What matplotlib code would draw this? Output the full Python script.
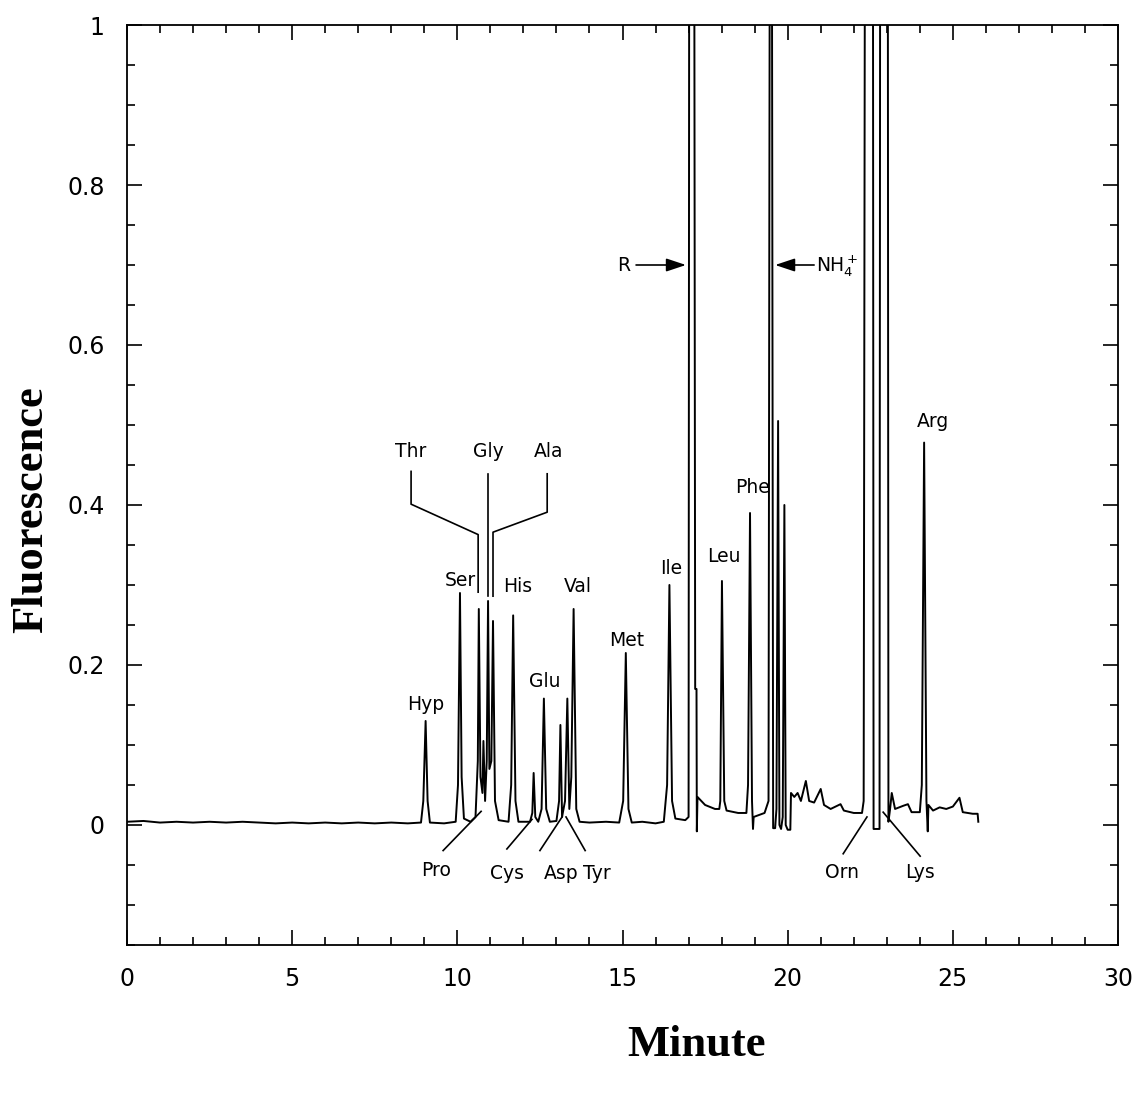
import numpy as np
import matplotlib
matplotlib.use("Agg")
import matplotlib.pyplot as plt
from matplotlib.ticker import MultipleLocator, FixedLocator, FixedFormatter

# chromatogram trace, vertices (minutes, fluorescence)
minutes = [
    0.0, 0.5, 1.0, 1.5, 2.0, 2.5, 3.0, 3.5, 4.0, 4.5, 5.0, 5.5, 6.0, 6.5, 7.0, 7.5, 8.0, 8.5, 8.9,
    8.97, 9.04, 9.10, 9.17, 9.6, 9.95,
    10.02, 10.08, 10.13, 10.2, 10.4, 10.55,
    10.62, 10.65, 10.70, 10.76, 10.79, 10.84, 10.89, 10.93, 10.97,
    11.03, 11.08, 11.14, 11.25, 11.55,
    11.63, 11.69, 11.76, 11.85, 12.2,
    12.27, 12.31, 12.36, 12.45,
    12.55, 12.62, 12.69, 12.8, 13.0,
    13.08, 13.12, 13.17, 13.26, 13.33, 13.39,
    13.45, 13.52, 13.60, 13.7, 14.0, 14.5, 14.9,
    15.02, 15.10, 15.18, 15.28, 15.6, 16.0, 16.25,
    16.35, 16.42, 16.50, 16.6, 16.9, 17.0,
    17.02, 17.17, 17.20, 17.24, 17.25, 17.27, 17.5, 17.8, 17.93,
    17.96, 18.01, 18.08, 18.15, 18.5, 18.75,
    18.80, 18.86, 18.92, 18.95, 18.97, 19.1, 19.3, 19.42,
    19.46, 19.52, 19.56, 19.62, 19.66, 19.71, 19.75, 19.80, 19.85, 19.90, 19.94, 20.0, 20.08,
    20.10, 20.2, 20.3, 20.4, 20.55, 20.65, 20.8, 21.0, 21.1, 21.3, 21.6, 21.7, 22.0, 22.25,
    22.30, 22.34, 22.58, 22.60, 22.78, 22.80, 23.03, 23.05,
    23.10, 23.15, 23.25, 23.5, 23.64, 23.75, 24.0,
    24.06, 24.13, 24.20, 24.23, 24.24, 24.26, 24.4, 24.6, 24.8, 25.0, 25.2, 25.3, 25.6, 25.75, 25.77,
]
fluorescence = [
    0.004, 0.005, 0.003, 0.004, 0.003, 0.004, 0.003, 0.004, 0.003, 0.002, 0.003, 0.002, 0.003, 0.002, 0.003, 0.002, 0.003, 0.002, 0.003,
    0.03, 0.13, 0.03, 0.003, 0.002, 0.004,
    0.05, 0.29, 0.06, 0.008, 0.004, 0.01,
    0.08, 0.27, 0.06, 0.04, 0.105, 0.03, 0.08, 0.28, 0.07,
    0.08, 0.255, 0.03, 0.006, 0.004,
    0.05, 0.262, 0.03, 0.004, 0.004,
    0.015, 0.065, 0.01, 0.004,
    0.02, 0.158, 0.02, 0.004, 0.005,
    0.03, 0.125, 0.01, 0.03, 0.158, 0.02,
    0.06, 0.27, 0.02, 0.004, 0.003, 0.004, 0.003,
    0.03, 0.215, 0.02, 0.003, 0.004, 0.002, 0.004,
    0.05, 0.30, 0.03, 0.008, 0.006, 0.01,
    1.2, 1.2, 0.17, 0.17, -0.008, 0.035, 0.025, 0.02, 0.02,
    0.03, 0.305, 0.03, 0.018, 0.015, 0.015,
    0.05, 0.39, 0.03, -0.005, 0.01, 0.012, 0.015, 0.03,
    1.2, 1.2, -0.004, -0.004, 0.02, 0.505, 0.0, -0.005, 0.01, 0.40, 0.0, -0.006, -0.006,
    0.04, 0.035, 0.04, 0.03, 0.055, 0.03, 0.028, 0.045, 0.025, 0.02, 0.026, 0.018, 0.015, 0.015,
    0.03, 1.2, 1.2, -0.005, -0.005, 1.2, 1.2, 0.004,
    0.02, 0.04, 0.02, 0.024, 0.026, 0.016, 0.016,
    0.05, 0.478, 0.03, 0.0, -0.008, 0.025, 0.018, 0.022, 0.02, 0.023, 0.034, 0.016, 0.014, 0.014, 0.004,
]

# peak labels: name, text position (minutes, fluorescence)
peak_names = ["Hyp", "Ser", "Thr", "Gly", "Ala", "His", "Val", "Glu", "Met",
              "Ile", "Leu", "Phe", "Arg", "Pro", "Cys", "Asp", "Tyr", "Orn", "Lys"]
label_x = [9.05, 10.08, 8.60, 10.93, 12.75, 11.84, 13.65, 12.66, 15.14,
           16.47, 18.07, 18.92, 24.40, 9.36, 11.50, 13.13, 14.22, 21.65, 24.01]
label_y = [0.150, 0.305, 0.467, 0.467, 0.467, 0.298, 0.298, 0.179, 0.231,
           0.320, 0.336, 0.422, 0.504, -0.057, -0.061, -0.061, -0.061, -0.059, -0.059]

# leader lines from labels to peaks
leaders = [
    ([8.60, 8.60, 10.63, 10.63], [0.442, 0.401, 0.363, 0.291]),   # Thr
    ([10.93, 10.93], [0.439, 0.286]),                             # Gly
    ([12.72, 12.72, 11.08, 11.08], [0.439, 0.391, 0.366, 0.286]), # Ala
    ([9.57, 10.72], [-0.032, 0.017]),                             # Pro
    ([11.50, 12.26], [-0.030, 0.007]),                            # Cys
    ([12.50, 13.17], [-0.032, 0.010]),                            # Asp
    ([13.87, 13.29], [-0.032, 0.010]),                            # Tyr
    ([21.68, 22.40], [-0.036, 0.010]),                            # Orn
    ([24.01, 22.89], [-0.039, 0.016]),                            # Lys
]

fig = plt.figure(figsize=(11.46, 10.97), dpi=100)
ax = fig.add_axes([0.1108, 0.1386, 0.8648, 0.8386])

ax.plot(minutes, fluorescence, color="black", lw=1.4)
for xs, ys in leaders:
    ax.plot(xs, ys, color="black", lw=1.2)

for name, x, y in zip(peak_names, label_x, label_y):
    ax.text(x, y, name, ha="center", va="center", fontsize=13.5, family="DejaVu Sans")

# reagent peak and ammonia markers
arrow_style = "-|>,head_length=1.2,head_width=0.4"
ax.annotate("", xy=(16.92, 0.70), xytext=(15.41, 0.70),
            arrowprops=dict(arrowstyle=arrow_style, color="black", lw=1.2,
                            shrinkA=0, shrinkB=0))
ax.text(15.05, 0.699, "R", ha="center", va="center", fontsize=13.5)
ax.annotate("", xy=(19.62, 0.70), xytext=(20.8, 0.70),
            arrowprops=dict(arrowstyle=arrow_style, color="black", lw=1.2,
                            shrinkA=0, shrinkB=0))
ax.text(20.85, 0.699, r"NH$_4^+$", ha="left", va="center", fontsize=13.5)

ax.set_xlim(0, 30)
ax.set_ylim(-0.15, 1.0)
ax.xaxis.set_major_locator(MultipleLocator(5))
ax.xaxis.set_minor_locator(MultipleLocator(1))
yticks = [0, 0.2, 0.4, 0.6, 0.8, 1.0]
ax.yaxis.set_major_locator(FixedLocator(yticks))
ax.yaxis.set_major_formatter(FixedFormatter(["0", "0.2", "0.4", "0.6", "0.8", "1"]))
ax.yaxis.set_minor_locator(MultipleLocator(0.05))
ax.tick_params(which="both", direction="in", top=True, right=True, width=1.2,
               labelsize=17, pad=16)
ax.tick_params(which="major", length=11)
ax.tick_params(which="minor", length=6)
for s in ax.spines.values():
    s.set_linewidth(1.3)

fig.text(0.608, 0.047, "Minute", ha="center", va="center", fontsize=32,
         fontweight="bold", family="Liberation Serif")
fig.text(0.027, 0.535, "Fluorescence", ha="center", va="center", rotation=90,
         fontsize=32, fontweight="bold", family="Liberation Serif")

fig.savefig("out.png", dpi=100)
